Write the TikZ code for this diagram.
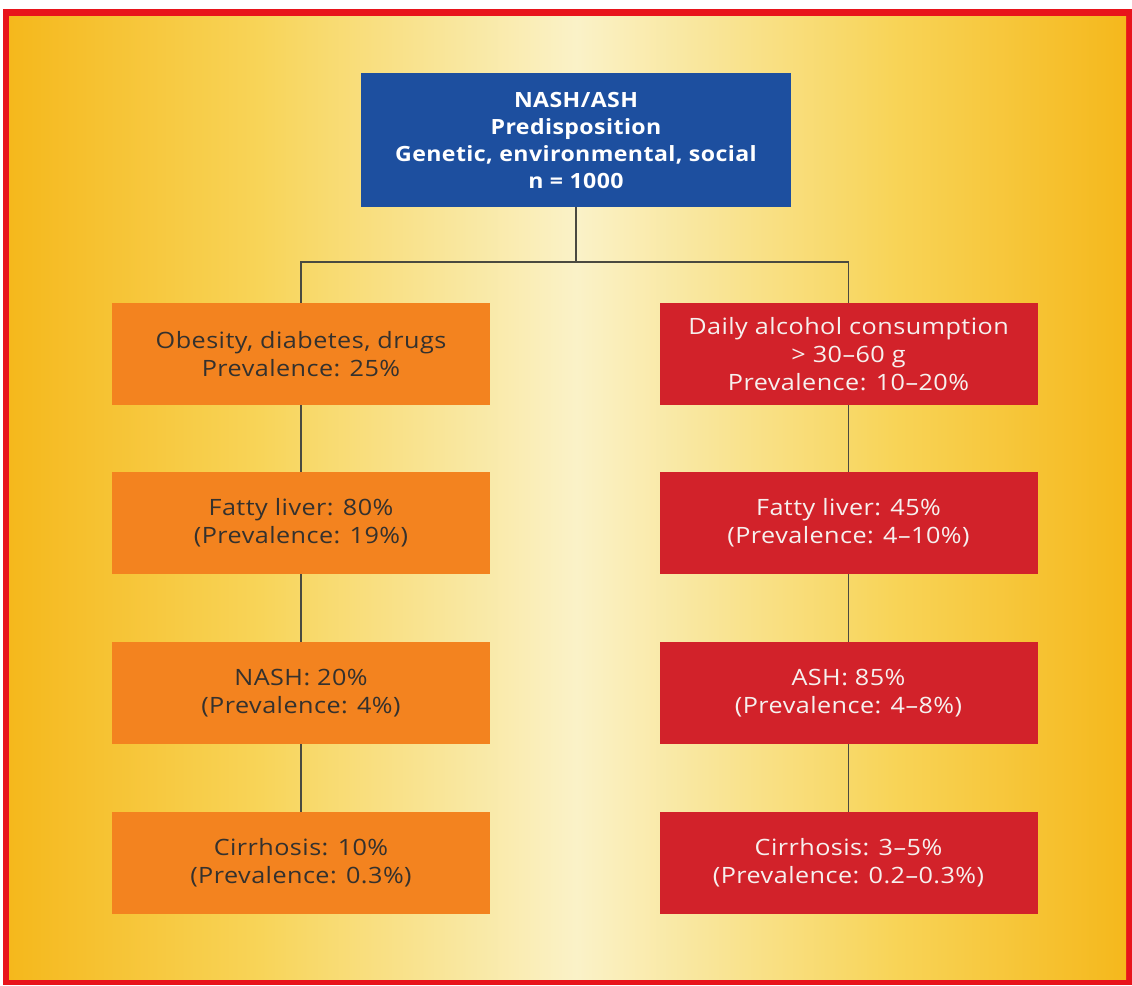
\documentclass[tikz,border=0pt]{standalone}
\usepackage{fontspec}
\setmainfont{Open Sans}[FakeStretch=1.12, LetterSpace=2]
\newfontfamily\headfont{Open Sans}[FakeStretch=1.1, LetterSpace=2]
\definecolor{framered}{HTML}{E8141B}
\definecolor{bgdeep}{HTML}{F5B81C}
\definecolor{bgmid}{HTML}{F8D458}
\definecolor{bgpale}{HTML}{FAF2C8}
\definecolor{topblue}{HTML}{1D4F9F}
\definecolor{boxorange}{HTML}{F3831F}
\definecolor{boxred}{HTML}{D2222A}
\definecolor{darktext}{HTML}{34312E}
\definecolor{lighttext}{HTML}{F6F0EE}
\definecolor{linkgray}{HTML}{4A4A40}
\tikzset{
  flowbox/.style={rectangle, minimum width=378pt, minimum height=102pt,
    align=center, inner sep=0pt, font=\fontsize{22.5}{28}\selectfont},
  leftbox/.style={flowbox, fill=boxorange, text=darktext},
  rightbox/.style={flowbox, fill=boxred, text=lighttext},
  headbox/.style={rectangle, fill=topblue, text=white, minimum width=430pt,
    minimum height=134pt, align=center, inner sep=0pt,
    font=\headfont\bfseries\fontsize{21}{27}\selectfont},
  link/.style={draw=linkgray, line width=1.5pt}
}
\begin{document}
\begin{tikzpicture}[x=1pt,y=-1pt]
\useasboundingbox (0,0) rectangle (1132,985);
\fill[white] (0,0) rectangle (1132,985);
% red frame
\fill[framered] (3,9) rectangle (1132,985);
% warm background, pale in the middle
\shade[left color=bgdeep, right color=bgmid] (9,16) rectangle (260,979);
\shade[left color=bgmid, right color=bgpale] (259,16) rectangle (577,979);
\shade[left color=bgpale, right color=bgmid] (576,16) rectangle (893,979);
\shade[left color=bgmid, right color=bgdeep] (892,16) rectangle (1126,979);

% head node
\node[headbox] (top) at (576,140)
  {NASH/ASH\\Predisposition\\Genetic, environmental, social\\n = 1000};

% left column
\node[leftbox] (l1) at (301,354) {Obesity, diabetes, drugs\\Prevalence: 25\%};
\node[leftbox] (l2) at (301,523) {Fatty liver: 80\%\\(Prevalence: 19\%)};
\node[leftbox] (l3) at (301,693) {NASH: 20\%\\(Prevalence: 4\%)};
\node[leftbox] (l4) at (301,863) {Cirrhosis: 10\%\\(Prevalence: 0.3\%)};

% right column
\node[rightbox] (r1) at (848.5,354) {Daily alcohol consumption\\> 30–60 g\\Prevalence: 10–20\%};
\node[rightbox] (r2) at (848.5,523) {Fatty liver: 45\%\\(Prevalence: 4–10\%)};
\node[rightbox] (r3) at (848.5,693) {ASH: 85\%\\(Prevalence: 4–8\%)};
\node[rightbox] (r4) at (848.5,863) {Cirrhosis: 3–5\%\\(Prevalence: 0.2–0.3\%)};

% connectors
\coordinate (split) at (576,262);
\draw[link] (top.south) -- (split);
\draw[link] (split) -| (l1.north);
\draw[link] (split) -| (r1.north);
\draw[link] (l1) -- (l2);
\draw[link] (l2) -- (l3);
\draw[link] (l3) -- (l4);
\draw[link] (r1) -- (r2);
\draw[link] (r2) -- (r3);
\draw[link] (r3) -- (r4);
\end{tikzpicture}
\end{document}
